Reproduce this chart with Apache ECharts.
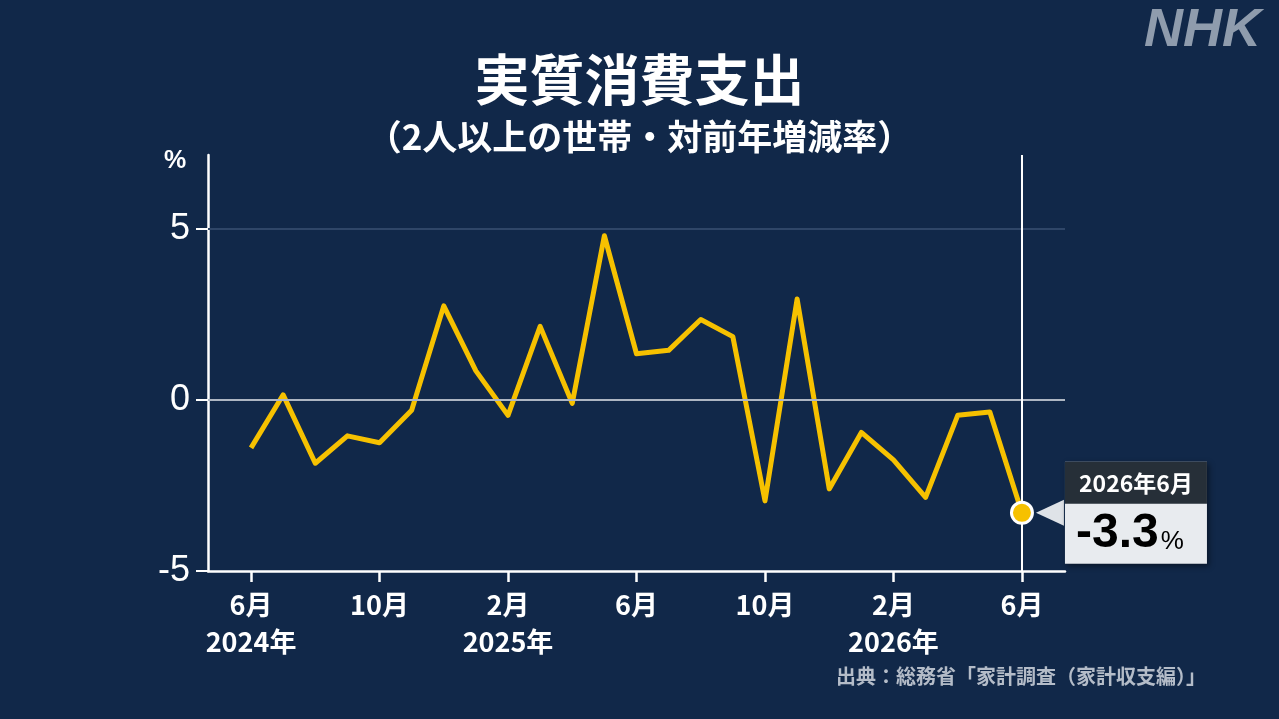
<!DOCTYPE html>
<html><head><meta charset="utf-8">
<script src="https://cdn.jsdelivr.net/npm/echarts@6/dist/echarts.min.js"></script>
<style>html,body{margin:0;padding:0;background:#112849;}#c{width:1279px;height:719px;}</style>
</head><body><div id="c"></div>
<script>
const months = ['2024年6月','2024年7月','2024年8月','2024年9月','2024年10月','2024年11月','2024年12月',
  '2025年1月','2025年2月','2025年3月','2025年4月','2025年5月','2025年6月','2025年7月','2025年8月','2025年9月','2025年10月','2025年11月','2025年12月',
  '2026年1月','2026年2月','2026年3月','2026年4月','2026年5月','2026年6月'];
const values = [-1.4, 0.15, -1.85, -1.05, -1.25, -0.3, 2.75, 0.85, -0.45, 2.15, -0.1, 4.8, 1.35, 1.45, 2.35, 1.85, -2.95, 2.95, -2.6, -0.95, -1.75, -2.85, -0.45, -0.35, -3.3];
const xTickIndex = [0, 4, 8, 12, 16, 20, 24];
const xTickLabels = ['6月\n2024年', '10月', '2月\n2025年', '6月', '10月', '2月\n2026年', '6月'];
const yTicks = [-5, 0, 5];
const titleText = '実質消費支出';
const subText = '（2人以上の世帯・対前年増減率）';
const sourceText = '出典：総務省「家計調査（家計収支編）」';

const font = '"Noto Sans CJK JP", "Liberation Sans", sans-serif';
const lastIdx = values.length - 1;
const lastVal = values[lastIdx];
const chart = echarts.init(document.getElementById('c'));
chart.setOption({
  animation: false,
  backgroundColor: '#112849',
  textStyle: { fontFamily: font },
  title: [{
    text: titleText, left: 'center', top: 47,
    textStyle: { color: '#fff', fontSize: 55, fontWeight: 'bold', fontFamily: font }
  }, {
    text: subText, left: 'center', top: 114,
    textStyle: { color: '#fff', fontSize: 35, fontWeight: 'bold', fontFamily: font }
  }, {
    text: sourceText, right: 68, top: 661,
    textStyle: { color: '#b4bcc8', fontSize: 20, fontWeight: 'bold', fontFamily: font }
  }],
  graphic: [{
    type: 'text', left: 164, top: 149,
    style: { text: '%', fill: '#fff', font: 'bold 25px "Liberation Sans", sans-serif' }
  }, {
    type: 'text', right: 18, top: 4,
    style: { text: 'NHK', fill: '#8f9cad', font: 'italic 900 54px "Liberation Sans", sans-serif' }
  }],
  grid: { left: 208, right: 214, top: 155, bottom: 148, containLabel: false },
  xAxis: {
    type: 'value', min: -1.34, max: 25.34,
    axisLine: { show: true, onZero: false, lineStyle: { color: '#fff', width: 2.5 } },
    axisTick: { show: true, customValues: xTickIndex, length: 11, lineStyle: { color: '#fff', width: 2.5 } },
    splitLine: { show: false },
    axisLabel: {
      customValues: xTickIndex, margin: 15, color: '#fff', fontSize: 27, fontWeight: 'bold', lineHeight: 37,
      fontFamily: font,
      formatter: function (v) { const i = xTickIndex.indexOf(Math.round(v)); return i >= 0 ? xTickLabels[i] : ''; }
    }
  },
  yAxis: {
    type: 'value', min: -5, max: 7.16,
    axisLine: { show: true, onZero: false, lineStyle: { color: '#fff', width: 2.5 } },
    axisTick: { show: true, customValues: yTicks, length: 12, lineStyle: { color: '#fff', width: 2 } },
    splitLine: { show: false },
    axisLabel: { customValues: yTicks, margin: 18, color: '#fff', fontSize: 36, fontFamily: '"Liberation Sans", sans-serif' }
  },
  series: [{
    type: 'line',
    data: values.map((v, i) => [i, v]),
    symbol: 'none',
    lineStyle: { color: '#f6c100', width: 5, join: 'round' },
    z: 3,
    markLine: {
      silent: true, symbol: 'none', label: { show: false }, animation: false,
      data: [
        { yAxis: 5, lineStyle: { color: '#2f4668', width: 2, type: 'solid' } },
        { yAxis: 0, lineStyle: { color: '#aeb6c2', width: 2, type: 'solid' } },
        { xAxis: lastIdx, lineStyle: { color: '#ffffff', width: 2, type: 'solid' } }
      ]
    }
  }, {
    type: 'scatter',
    data: [[lastIdx, lastVal]],
    symbol: 'triangle', symbolSize: [26, 28], symbolRotate: 90, symbolOffset: [28, 0],
    itemStyle: { color: '#dfe3e8', opacity: 1 }, z: 4, silent: true
  }, {
    type: 'scatter',
    data: [[lastIdx, lastVal]],
    symbol: 'circle', symbolSize: 21,
    itemStyle: { color: '#f6c100', borderColor: '#fff', borderWidth: 3, opacity: 1 },
    z: 5, silent: true,
    label: {
      show: true, position: 'right', distance: 31,
      backgroundColor: '#e8ebef', padding: 0,
      shadowColor: 'rgba(0,0,0,0.45)', shadowBlur: 6, shadowOffsetX: 2, shadowOffsetY: 2,
      formatter: function () { return '{h|' + months[lastIdx] + '}\n{v|' + lastVal.toFixed(1) + '}{p|%}'; },
      rich: {
        h: { width: 142, height: 42, lineHeight: 42, align: 'center', backgroundColor: '#262f38', color: '#fff', fontSize: 23, fontWeight: 'bold', fontFamily: font },
        v: { height: 60, lineHeight: 60, padding: [0, 0, 0, 11], color: '#000', fontSize: 48, fontWeight: 'bold', fontFamily: '"Liberation Sans", sans-serif' },
        p: { height: 60, lineHeight: 60, padding: [15, 0, 0, 2], color: '#000', fontSize: 26, fontFamily: '"Liberation Sans", sans-serif' }
      }
    }
  }]
});
</script></body></html>
